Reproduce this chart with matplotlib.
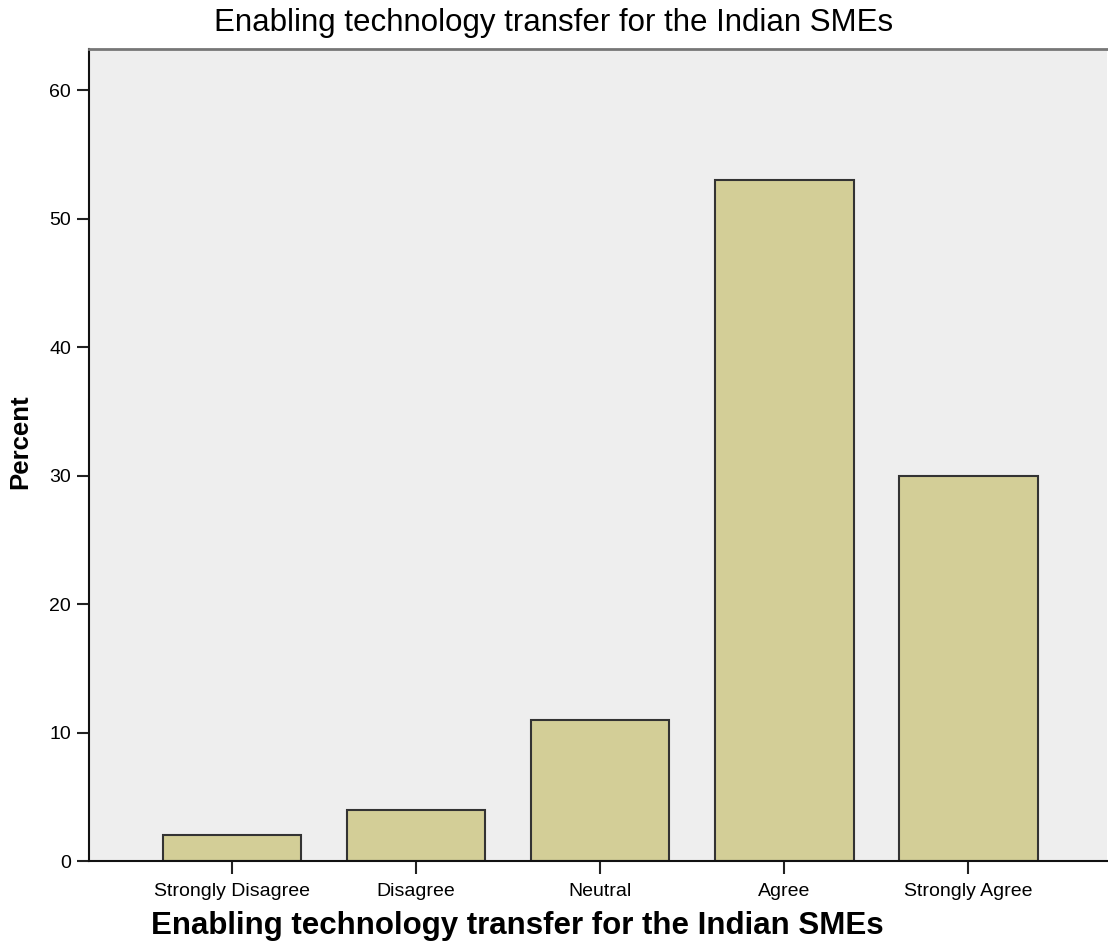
import matplotlib
matplotlib.use("Agg")
import matplotlib.pyplot as plt

categories = ["Strongly Disagree", "Disagree", "Neutral", "Agree", "Strongly Agree"]
percent = [2, 4, 11, 53, 30]
yticks = [0, 10, 20, 30, 40, 50, 60]
title = "Enabling technology transfer for the Indian SMEs"

plt.rcParams["font.family"] = ["Liberation Sans", "DejaVu Sans"]

fig = plt.figure(figsize=(11.08, 9.52), dpi=100)
ax = fig.add_axes([89 / 1108, 1 - 861 / 952, 1018 / 1108, 812 / 952])
ax.set_facecolor("#eeeeee")

x = range(len(categories))
ax.bar(x, percent, width=0.755, color="#d3ce97", edgecolor="#333333", linewidth=1.5, zorder=2)

ax.set_xlim(-0.777, 4.755)
ax.set_ylim(0, 63.2)
ax.set_xticks(list(x))
ax.set_xticklabels(categories, fontsize=14)
ax.set_yticks(yticks)
ax.set_yticklabels([str(t) for t in yticks], fontsize=14)
ax.tick_params(axis="both", direction="out", length=9, width=1.5, color="#222222", pad=4)
ax.tick_params(axis="x", pad=7)

for side in ["left", "bottom"]:
    ax.spines[side].set_color("#111111")
    ax.spines[side].set_linewidth(1.5)
ax.spines["top"].set_color("#777777")
ax.spines["top"].set_linewidth(2)
ax.spines["right"].set_visible(False)

fig.text(554 / 1108, 1 - 23 / 952, title, fontsize=22.5, ha="center", va="center")
fig.text(517 / 1108, 1 - 926 / 952, title, fontsize=22.5, fontweight="bold", ha="center", va="center")
fig.text(20 / 1108, 1 - 442 / 952, "Percent", fontsize=18.5, fontweight="bold", rotation=90,
         ha="center", va="center")

fig.savefig("out.png", dpi=100)
